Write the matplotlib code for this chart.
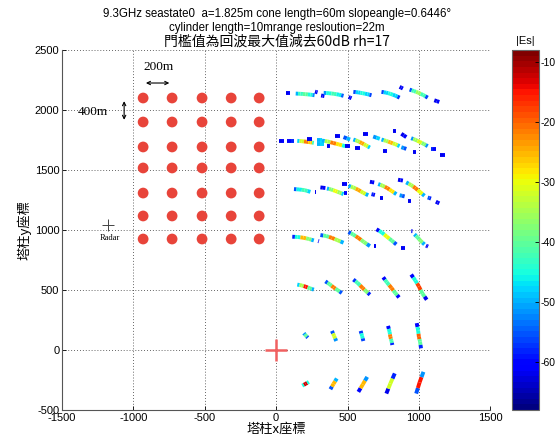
import numpy as np
import matplotlib
matplotlib.use('Agg')
import matplotlib.pyplot as plt
from matplotlib.collections import LineCollection
from matplotlib.colors import Normalize

plt.rcParams['font.family'] = ['Liberation Sans', 'Noto Sans CJK TC']
plt.rcParams['axes.unicode_minus'] = False

# target layout (the inset sketch), metres
grid_x = [-932, -729, -519, -315, -119]
grid_y = [2100, 1900, 1692, 1517, 1308, 1117, 925]
radar_xy = (-1178, 1042)

# detected echoes, one list per row of targets; each piece is (x, y, |Es| dB)
row1 = [
    [(67, 2143, -62), (97, 2143, -60)],
    [(137, 2137, -50), (170, 2135, -43), (205, 2132, -40), (240, 2128, -45), (269, 2123, -52)],
    [(272, 2153, -62), (290, 2147, -60)],
    [(315, 2121, -62), (338, 2116, -60)],
    [(333, 2143, -52), (370, 2140, -45), (405, 2135, -42), (440, 2128, -46), (472, 2118, -54)],
    [(508, 2108, -62), (528, 2098, -60)],
    [(541, 2151, -56), (575, 2147, -48), (605, 2140, -45), (640, 2132, -48), (668, 2123, -56)],
    [(738, 2151, -56), (770, 2145, -48), (800, 2135, -45), (835, 2120, -48), (865, 2103, -57)],
    [(865, 2193, -62), (888, 2179, -60)],
    [(935, 2170, -55), (965, 2158, -42), (995, 2145, -36), (1030, 2125, -42), (1062, 2103, -56)],
    [(1108, 2081, -62), (1143, 2067, -60)],
]
row2 = [
    [(21, 1743, -62), (56, 1743, -60)],
    [(78, 1743, -60), (125, 1743, -58)],
    [(148, 1743, -48), (180, 1740, -32), (210, 1736, -22), (240, 1731, -26), (264, 1726, -42)],
    [(217, 1760, -62), (252, 1760, -60)],
    [(287, 1754, -50), (321, 1754, -48)],
    [(287, 1715, -50), (333, 1715, -48)],
    [(356, 1703, -62), (379, 1703, -60)],
    [(321, 1745, -50), (360, 1738, -35), (400, 1725, -22), (440, 1713, -28), (484, 1699, -45)],
    [(414, 1787, -62), (449, 1787, -60)],
    [(472, 1774, -55), (518, 1754, -50)],
    [(484, 1703, -62), (518, 1703, -60)],
    [(541, 1754, -50), (570, 1742, -35), (600, 1725, -24), (630, 1705, -32), (657, 1687, -48)],
    [(553, 1682, -62), (588, 1682, -60)],
    [(611, 1802, -62), (645, 1802, -60)],
    [(680, 1779, -52), (726, 1760, -48)],
    [(750, 1662, -62), (780, 1662, -60)],
    [(738, 1754, -50), (770, 1743, -35), (800, 1730, -25), (835, 1715, -32), (865, 1699, -48)],
    [(819, 1824, -62), (842, 1824, -60)],
    [(877, 1802, -62), (912, 1774, -60)],
    [(877, 1690, -52), (912, 1676, -55)],
    [(958, 1648, -62), (981, 1648, -60)],
    [(946, 1765, -52), (975, 1752, -36), (1005, 1735, -31), (1035, 1717, -38), (1062, 1699, -52)],
    [(1085, 1676, -58), (1119, 1676, -60)],
    [(1150, 1626, -62), (1182, 1626, -60)],
]
row3 = [
    [(125, 1341, -55), (160, 1338, -46), (200, 1332, -42), (240, 1318, -48)],
    [(270, 1318, -62), (282, 1318, -60)],
    [(310, 1355, -62), (345, 1350, -60)],
    [(356, 1346, -50), (385, 1338, -38), (415, 1325, -30), (445, 1312, -36), (472, 1299, -48)],
    [(460, 1383, -62), (495, 1383, -60)],
    [(472, 1307, -62), (495, 1307, -60)],
    [(507, 1368, -50), (540, 1355, -35), (575, 1335, -24), (610, 1310, -32), (645, 1290, -50)],
    [(657, 1402, -62), (687, 1396, -60)],
    [(668, 1299, -58), (692, 1292, -60)],
    [(727, 1263, -62), (750, 1263, -60)],
    [(715, 1383, -50), (745, 1370, -35), (778, 1350, -22), (810, 1325, -28), (842, 1299, -50)],
    [(854, 1419, -62), (888, 1412, -60)],
    [(865, 1290, -52), (900, 1280, -55)],
    [(923, 1243, -62), (946, 1243, -60)],
    [(911, 1397, -50), (945, 1375, -35), (975, 1350, -22), (1010, 1315, -30), (1039, 1285, -50)],
    [(1062, 1271, -55), (1085, 1262, -58)],
    [(1119, 1236, -62), (1143, 1222, -60)],
]
row4 = [
    [(113, 944, -58), (150, 942, -45), (190, 936, -25), (230, 925, -38), (264, 913, -50)],
    [(294, 908, -62), (300, 906, -60)],
    [(310, 958, -55), (350, 950, -40), (390, 935, -22), (430, 915, -35), (472, 894, -50)],
    [(507, 983, -55), (540, 962, -40), (575, 935, -22), (615, 900, -38), (657, 866, -52)],
    [(687, 866, -62), (703, 866, -60)],
    [(703, 1006, -60), (740, 980, -45), (775, 945, -30), (810, 912, -40), (842, 880, -55)],
    [(877, 846, -62), (900, 846, -60)],
    [(946, 991, -62), (955, 990, -60)],
    [(969, 964, -50), (990, 940, -40), (1012, 910, -38), (1039, 880, -50)],
    [(1050, 870, -62), (1064, 862, -60)],
]
row5 = [
    [(148, 545, -48), (180, 538, -35), (206, 528, -15), (235, 515, -40), (264, 503, -50)],
    [(345, 572, -55), (375, 548, -40), (402, 522, -22), (430, 500, -40), (460, 475, -55)],
    [(541, 587, -57), (570, 560, -42), (606, 517, -22), (630, 490, -38), (657, 461, -58)],
    [(750, 606, -60), (775, 565, -42), (808, 517, -22), (835, 475, -40), (861, 438, -60)],
    [(946, 629, -60), (975, 580, -45), (1000, 530, -18), (1025, 470, -40), (1055, 419, -62)],
]
row6 = [
    [(194, 140, -52), (208, 120, -40), (222, 103, -55)],
    [(391, 159, -55), (406, 117, -32), (421, 75, -52)],
    [(592, 159, -57), (602, 117, -45), (611, 75, -56)],
    [(784, 201, -60), (795, 150, -45), (800, 110, -22), (808, 75, -42), (814, 42, -58)],
    [(985, 224, -60), (995, 160, -45), (1000, 110, -20), (1008, 70, -40), (1015, 14, -58)],
]
row7 = [
    [(183, -297, -45), (206, -282, -12), (229, -266, -45)],
    [(380, -327, -55), (402, -282, -25), (425, -237, -50)],
    [(576, -349, -60), (607, -287, -25), (638, -224, -52)],
    [(772, -363, -62), (800, -280, -32), (831, -195, -58)],
    [(981, -363, -55), (1005, -270, -15), (1032, -182, -52)],
]

clim = (-68, -8)
cmap = plt.get_cmap('jet', 64)
norm = Normalize(*clim)

fig = plt.figure(figsize=(5.59, 4.36), dpi=100)
ax = fig.add_axes([0.111, 0.0596, 0.766, 0.8257])

# inset sketch of the tower grid
gx, gy = np.meshgrid(grid_x, grid_y)
ax.scatter(gx.ravel(), gy.ravel(), s=60, color='#e8443a', edgecolors='none', zorder=3)
ax.plot(*radar_xy, marker='+', color='#444444', ms=9, mew=0.7, zorder=3)
ax.text(radar_xy[0] + 15, radar_xy[1] - 110, 'Radar', family='Liberation Serif',
        fontsize=6, ha='center', va='center')
ax.text(-827, 2358, '200m', family='Liberation Serif', fontsize=9.5, ha='center', va='center')
ax.annotate('', xy=(-729, 2225), xytext=(-932, 2225),
            arrowprops=dict(arrowstyle='<->', lw=0.8, color='k', mutation_scale=6))
ax.text(-1283, 1983, '400m', family='Liberation Serif', fontsize=9.5, ha='center', va='center')
ax.annotate('', xy=(-1065, 1895), xytext=(-1065, 2097),
            arrowprops=dict(arrowstyle='<->', lw=0.8, color='k', mutation_scale=6))

# echoes: each half of a piece between two readings takes the colour of its own reading
segs, vals = [], []
for row in [row1, row2, row3, row4, row5, row6, row7]:
    for piece in row:
        for p, q in zip(piece[:-1], piece[1:]):
            mid = ((p[0] + q[0]) / 2, (p[1] + q[1]) / 2)
            segs.append([(p[0], p[1]), mid])
            vals.append(p[2])
            segs.append([mid, (q[0], q[1])])
            vals.append(q[2])
lc = LineCollection(segs, cmap=cmap, norm=norm, linewidths=2.8, capstyle='butt', zorder=4)
lc.set_array(np.array(vals))
ax.add_collection(lc)

# radar position marker
ax.plot(0, 0, marker='+', color='#f06060', ms=16, mew=1.8, zorder=5)

ax.set_xlim(-1500, 1500)
ax.set_ylim(-500, 2500)
ax.set_xticks(np.arange(-1500, 1501, 500))
ax.set_yticks(np.arange(-500, 2501, 500))
ax.tick_params(direction='in', length=3, labelsize=8, width=0.6, pad=2)
ax.grid(True, color='#333333', linestyle=(0, (1, 2.5)), linewidth=0.6)
for s in ['top', 'right']:
    ax.spines[s].set_visible(False)
for s in ['left', 'bottom']:
    ax.spines[s].set_color('#555555')
    ax.spines[s].set_linewidth(0.8)

ax.set_xlabel('塔柱x座標', family=['Noto Sans CJK TC'], fontsize=9.5, labelpad=0)
ax.set_ylabel('塔柱y座標', family=['Noto Sans CJK TC'], fontsize=9.5, labelpad=2)

fig.text(0.495, 0.968, '9.3GHz seastate0  a=1.825m cone length=60m slopeangle=0.6446°',
         ha='center', va='center', fontsize=8.3)
fig.text(0.495, 0.936, 'cylinder length=10mrange resloution=22m',
         ha='center', va='center', fontsize=8.3)
fig.text(0.495, 0.905, '門檻值為回波最大值減去60dB rh=17', family=['Noto Sans CJK TC'],
         ha='center', va='center', fontsize=10)

# colorbar
cax = fig.add_axes([0.916, 0.0596, 0.048, 0.8257])
sm = plt.cm.ScalarMappable(norm=norm, cmap=cmap)
cb = fig.colorbar(sm, cax=cax, ticks=np.arange(-60, -9, 10))
cb.outline.set_edgecolor('#666666')
cb.outline.set_linewidth(0.8)
cax.tick_params(direction='in', length=3, labelsize=7.5, width=0.6, pad=1)
fig.text(0.94, 0.905, '|Es|', ha='center', va='center', fontsize=8)

fig.savefig('out.png', dpi=100)
